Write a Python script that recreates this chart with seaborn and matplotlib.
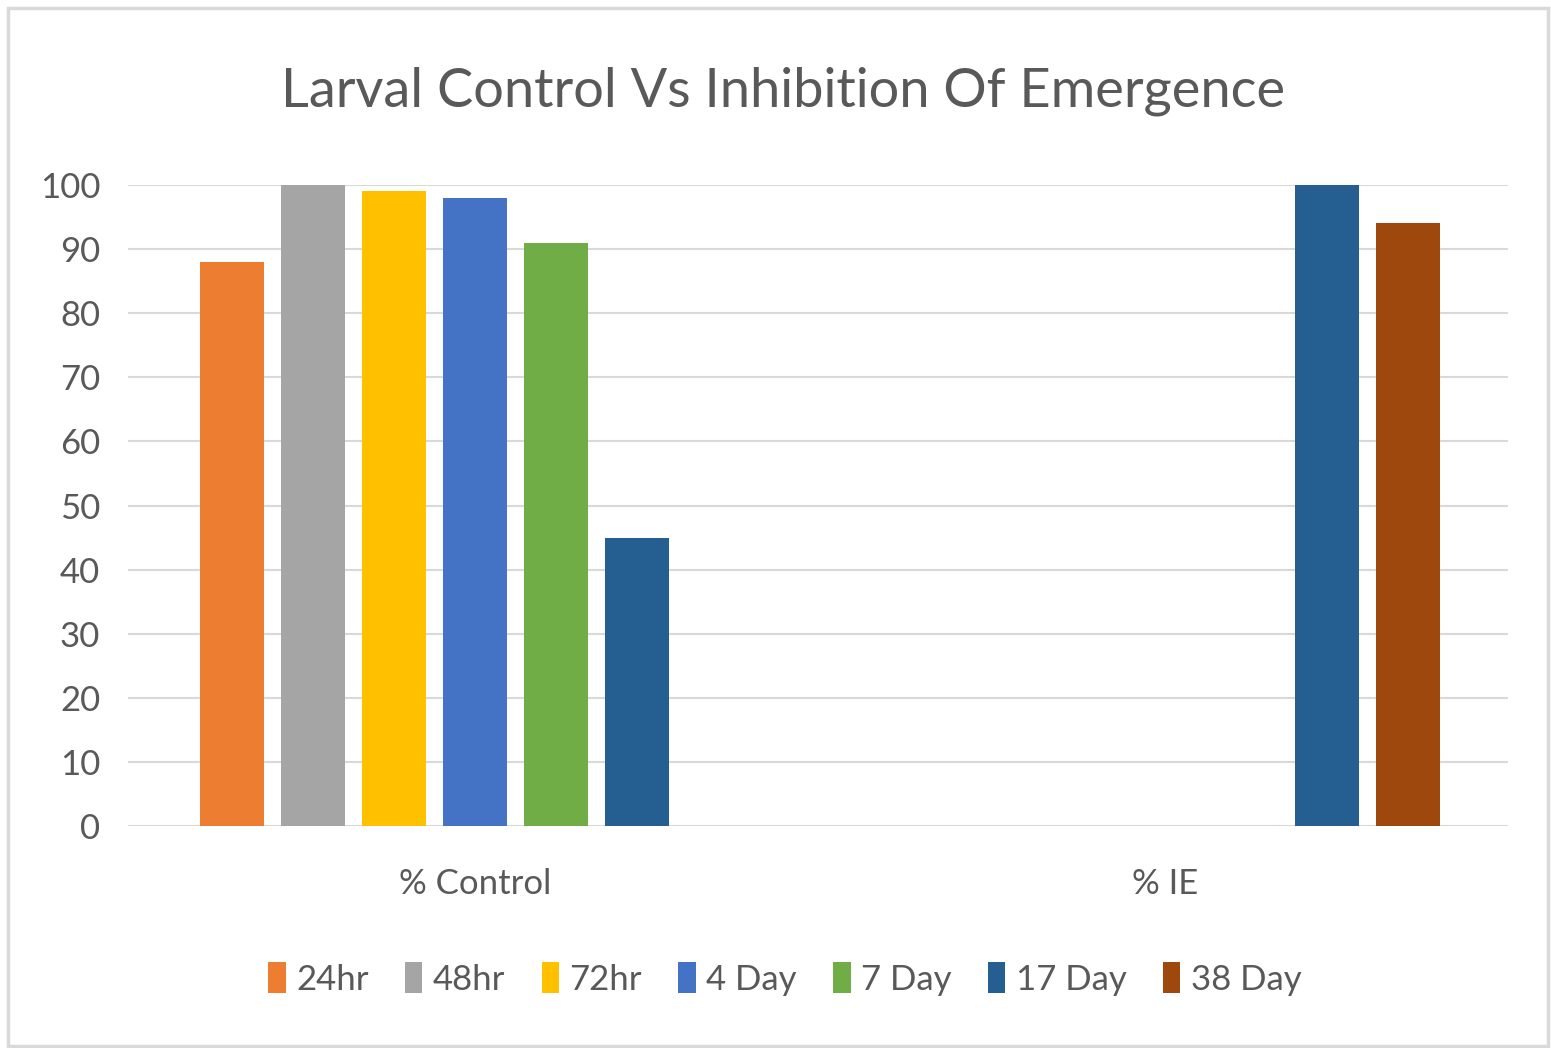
import pandas as pd
import seaborn as sns
import matplotlib.pyplot as plt
from matplotlib.patches import Rectangle

# Data
categories = ['% Control', '% IE']
periods = ['24hr', '48hr', '72hr', '4 Day', '7 Day', '17 Day', '38 Day']
control_vals = [88, 100, 99, 98, 91, 45, 0]
ie_vals = [0, 0, 0, 0, 0, 100, 94]
colors = ['#ED7D31', '#A5A5A5', '#FFC000', '#4472C4', '#70AD47', '#255E91', '#9E480E']

df = pd.DataFrame({
    'category': [categories[0]] * len(periods) + [categories[1]] * len(periods),
    'period': periods + periods,
    'value': control_vals + ie_vals,
})

sns.set_style('white')
plt.rcParams['font.family'] = ['Lato', 'DejaVu Sans']
txt = '#595959'
grid = '#D9D9D9'

fig = plt.figure(figsize=(15.51, 10.48), dpi=100)
ax = fig.add_axes([0.0825, 0.2118, 0.8898, 0.6117])

sns.barplot(data=df, x='category', y='value', hue='period', order=categories,
            hue_order=periods, palette=colors, saturation=1, width=0.822, gap=0.21,
            linewidth=0, errorbar=None, ax=ax, legend=True)

ax.set_xlim(-0.503, 1.497)
ax.set_ylim(0, 100)
ax.set_yticks(range(0, 101, 10))
ax.yaxis.grid(True, color=grid, linewidth=1.5)
ax.set_axisbelow(True)
for s in ax.spines.values():
    s.set_visible(False)
ax.set_xlabel('')
ax.set_ylabel('')
ax.tick_params(axis='y', labelsize=25, colors=txt, length=0, pad=20)
ax.tick_params(axis='x', labelsize=25, colors=txt, length=0, pad=30)

handles, labels = ax.get_legend_handles_labels()
ax.get_legend().remove()
fig.legend(handles, labels, loc='center', bbox_to_anchor=(0.506, 0.066), ncol=7,
           frameon=False, fontsize=25, labelcolor=txt, handlelength=0.5,
           handleheight=1.0, handletextpad=0.3, columnspacing=1.05)

fig.suptitle('Larval Control Vs Inhibition Of Emergence', x=0.505, y=0.937,
             fontsize=39, color=txt)

fig.patches.append(Rectangle((0.005, 0.002), 0.993, 0.99, transform=fig.transFigure,
                             fill=False, edgecolor=grid, linewidth=2.5))

fig.savefig('out.png', dpi=100)
